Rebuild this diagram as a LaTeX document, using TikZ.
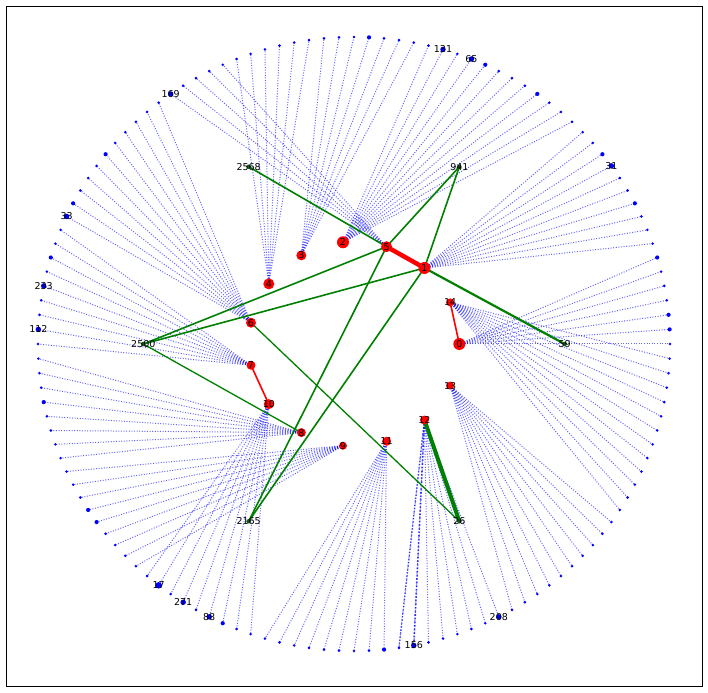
\documentclass[tikz,border=0pt]{standalone}
\usepackage{fontspec}
\setmainfont{DejaVu Sans}
\definecolor{mplgreen}{RGB}{0,128,0}
\definecolor{hexgreen}{RGB}{20,90,20}
\tikzset{
  hub/.style={circle, fill=red, draw=none, inner sep=0pt},
  hexdot/.style={circle, fill=hexgreen, draw=none, inner sep=0pt, minimum size=4.5pt},
  odot/.style={circle, fill=blue, draw=none, inner sep=0pt, minimum size=2.9pt},
  bigdot/.style={minimum size=4.2pt},
  labdot/.style={minimum size=5.5pt},
  lab/.style={text=black, inner sep=0pt, font=\fontsize{9.5}{10}\selectfont},
  spoke/.style={draw=blue, draw opacity=0.6, line width=1pt, dash pattern=on 1pt off 1.6pt},
  gedge/.style={draw=mplgreen, line width=1.6pt},
  redge/.style={draw=red, line width=1.6pt},
}
\tikzset{
  odsz1/.style=bigdot, odsz2/.style=bigdot, odsz6/.style=bigdot, odsz10/.style=bigdot,
  odsz14/.style=bigdot, odsz20/.style=bigdot, odsz24/.style=bigdot, odsz32/.style=bigdot,
  odsz52/.style=bigdot, odsz56/.style=bigdot, odsz60/.style=bigdot, odsz70/.style=bigdot,
  odsz78/.style=bigdot, odsz79/.style=bigdot, odsz90/.style=bigdot, odsz101/.style=bigdot,
  odsz13/.style=labdot, odsz25/.style=labdot, odsz27/.style=labdot, odsz46/.style=labdot,
  odsz57/.style=labdot, odsz62/.style=labdot, odsz65/.style=labdot, odsz85/.style={minimum size=6.5pt},
  odsz87/.style=labdot, odsz89/.style=labdot, odsz103/.style=labdot, odsz109/.style=labdot,
}
\begin{document}
\begin{tikzpicture}[x=1pt,y=1pt]
\useasboundingbox (-354,-348) rectangle (354,344);
\fill[white] (-354,-348) rectangle (354,344);
\draw[black, line width=0.8pt] (-348,-342) rectangle (348,338);

% positions (named coordinates)
\foreach \k in {0,...,131}{
  \pgfmathsetmacro{\ang}{\k*2.7272727}
  \coordinate (o\k) at ({316*cos(\ang)},{307*sin(\ang)});
}
\foreach \n/\a in {0/0, 14/24, 1/48, 5/72, 2/96, 3/120, 4/144, 6/168, 7/192, 10/216, 8/240, 9/264, 11/288, 12/312, 13/336}{
  \coordinate (h\n) at ({105.3*cos(\a)},{102.3*sin(\a)});
}
\foreach \n/\a in {59/0, 941/60, 2568/120, 2500/180, 2165/240, 26/300}{
  \coordinate (x\n) at ({210.7*cos(\a)},{204.7*sin(\a)});
}

% blue dotted spokes
\foreach \h/\a/\b in {0/0/6, 1/7/16, 2/17/28, 3/29/35, 4/36/41, 5/42/46, 6/47/57, 7/58/66, 8/67/74, 9/75/83, 10/84/92, 11/93/101, 12/102/109, 13/110/119, 14/120/131}{
  \foreach \k in {\a,...,\b}{
    \draw[spoke] (h\h) -- (o\k);
  }
}
\draw[spoke, line width=1.6pt, draw opacity=0.75, dash pattern=on 1.6pt off 2pt] (h12) -- (o103);
\draw[spoke, line width=1.4pt, draw opacity=0.65, dash pattern=on 1.4pt off 2pt] (h12) -- (o102);

% green edges
\draw[gedge] (x2568) -- (h5);
\draw[gedge, line width=2.2pt] (h1) -- (x59);
\draw[gedge] (x941) -- (h5);
\draw[gedge] (x941) -- (h1);
\draw[gedge] (x2500) -- (h5);
\draw[gedge] (x2500) -- (h1);
\draw[gedge, line width=1.3pt] (x2500) -- (h8);
\draw[gedge] (x2165) -- (h5);
\draw[gedge] (x2165) -- (h1);
\draw[gedge, line width=1.3pt] (h6) -- (x26);
\draw[gedge, line width=4pt] (h12) -- (x26);

% red edges
\draw[redge, line width=4.5pt] (h5) -- (h1);
\draw[redge] (h14) -- (h0);
\draw[redge] (h7) -- (h10);

% nodes drawn on top
\foreach \k in {0,...,131}{
  \node[odot, odsz\k/.try] (no\k) at (o\k) {};
}
\foreach \n/\s in {0/12, 14/8, 1/12, 5/11, 2/12, 3/10, 4/11, 6/10, 7/9, 10/10, 8/9, 9/8, 11/9, 12/9, 13/8}{
  \node[hub, minimum size=\s pt] (nh\n) at (h\n) {};
  \node[lab] (th\n) at (h\n) {\n};
}
\foreach \n in {59,941,2568,2500,2165,26}{
  \node[hexdot] (nx\n) at (x\n) {};
  \node[lab] (tx\n) at (x\n) {\n};
}
\foreach \k/\t in {13/31, 25/65, 27/131, 46/169, 57/33, 62/233, 65/112, 85/17, 87/271, 89/88, 103/156, 109/208}{
  \node[lab] (to\k) at (o\k) {\t};
}
\end{tikzpicture}
\end{document}
